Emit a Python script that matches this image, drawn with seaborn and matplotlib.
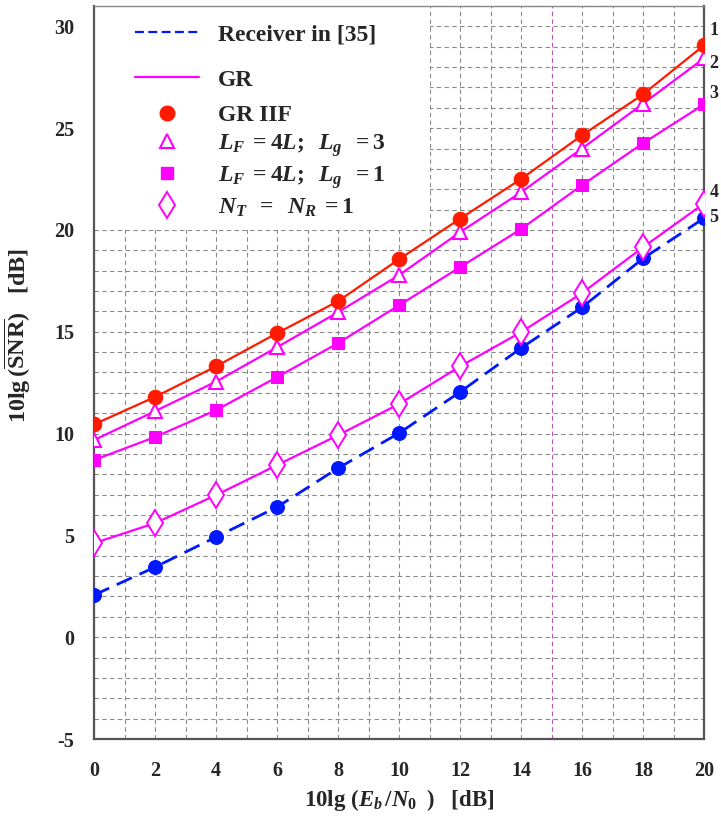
import numpy as np
import pandas as pd
import matplotlib
matplotlib.use("Agg")
import matplotlib.pyplot as plt
from matplotlib.lines import Line2D
from matplotlib.patches import Rectangle
from matplotlib.ticker import MultipleLocator
import seaborn as sns

# ---------------- data ----------------
ebn0 = [0, 2, 4, 6, 8, 10, 12, 14, 16, 18, 20]
gr_iif = [10.45, 11.8, 13.3, 14.93, 16.5, 18.56, 20.55, 22.5, 24.65, 26.66, 29.07]
lg3 = [9.68, 11.1, 12.55, 14.24, 15.96, 17.78, 19.89, 21.85, 24.0, 26.2, 28.43]
lg1 = [8.7, 9.83, 11.15, 12.77, 14.44, 16.3, 18.17, 20.04, 22.2, 24.26, 26.17]
siso = [4.62, 5.6, 6.98, 8.45, 9.92, 11.45, 13.3, 14.98, 16.9, 19.15, 21.3]
recv35 = [2.07, 3.44, 4.92, 6.39, 8.3, 10.02, 12.04, 14.2, 16.2, 18.6, 20.58]

y_ticks = [-5, 0, 5, 10, 15, 20, 25, 30]
x_ticks = [0, 2, 4, 6, 8, 10, 12, 14, 16, 18, 20]
curve_ids = ["1", "2", "3", "4", "5"]

legend_labels = ["Receiver in [35]", "GR", "GR IIF",
                 r"$L_F\;=4L;\;\;L_g\;\;=3$",
                 r"$L_F\;=4L;\;\;L_g\;\;=1$",
                 r"$N_T\;\;=\;\;N_R\;=1$"]

# ---------------- style ----------------
sns.set_style("white")
plt.rcParams["font.family"] = ["Liberation Serif", "DejaVu Serif"]
plt.rcParams["font.weight"] = "bold"
plt.rcParams["axes.unicode_minus"] = False
plt.rcParams["mathtext.fontset"] = "custom"
plt.rcParams["mathtext.rm"] = "Liberation Serif:bold"
plt.rcParams["mathtext.it"] = "Liberation Serif:italic:bold"
plt.rcParams["mathtext.bf"] = "Liberation Serif:bold"

MAG = "#ff00ff"
RED = "#ff1a00"
BLUE = "#0018ff"

fig = plt.figure(figsize=(7.21, 8.21), dpi=100)
ax = fig.add_axes([94 / 721, 82 / 821, 610 / 721, 733 / 821])

df = pd.DataFrame({"x": ebn0, "iif": gr_iif, "lg3": lg3, "lg1": lg1,
                   "siso": siso, "r35": recv35})

sns.lineplot(data=df, x="x", y="r35", ax=ax, color=BLUE, lw=2,
             linestyle=(0, (6, 3)), marker="o", markersize=10,
             markeredgecolor=BLUE, zorder=5)
sns.lineplot(data=df, x="x", y="siso", ax=ax, color=MAG, lw=1.6,
             marker="d", markersize=13, markerfacecolor="white",
             markeredgecolor=MAG, markeredgewidth=1.4, zorder=5)
sns.lineplot(data=df, x="x", y="lg1", ax=ax, color=MAG, lw=1.6,
             marker="s", markersize=9, markeredgecolor=MAG, zorder=5)
sns.lineplot(data=df, x="x", y="lg3", ax=ax, color=MAG, lw=1.6,
             marker="^", markersize=10.5, markerfacecolor="white",
             markeredgecolor=MAG, markeredgewidth=1.5, zorder=5)
sns.lineplot(data=df, x="x", y="iif", ax=ax, color=RED, lw=1.6,
             marker="o", markersize=10.5, markeredgecolor=RED, zorder=6)

ax.set_xlim(0, 20)
ax.set_ylim(-5, 31)
ax.xaxis.set_minor_locator(MultipleLocator(1))
ax.yaxis.set_minor_locator(MultipleLocator(1))
ax.set_xticks(x_ticks)
ax.set_yticks(y_ticks)
ax.tick_params(axis="both", which="both", length=0, labelsize=14.5)
ax.tick_params(axis="x", pad=16)
ax.tick_params(axis="y", pad=14)
for lab in ax.get_xticklabels() + ax.get_yticklabels():
    lab.set_fontweight("bold")

ax.grid(True, which="both", color="#8a8a8a", linestyle=(0, (4, 3)), lw=0.8)
ax.set_axisbelow(True)
for s in ax.spines.values():
    s.set_color("#555555")
    s.set_linewidth(1.6)
ax.spines["top"].set_linewidth(1.0)
ax.spines["top"].set_color("#888888")

# faint magenta vertical marker
ax.axvline(15, color=MAG, lw=0.8, linestyle=(0, (4, 3)), alpha=0.35, zorder=1)

# white legend area hides grid
ax.add_patch(Rectangle((0, 0.694), 0.551, 0.306, transform=ax.transAxes,
                       facecolor="white", edgecolor="none", zorder=1.5))

ax.set_xlabel(r"10lg $(E_b\,/N_0\;\;)$   [dB]", fontsize=16.5, fontweight="bold",
              labelpad=4)
ax.set_ylabel(r"10lg$\,(\overline{\mathrm{SNR}})$   [dB]", fontsize=17.5,
              fontweight="bold")
ax.yaxis.set_label_coords(-0.1, 0.55)

# legend (two blocks for uneven spacing)
h1 = [Line2D([], [], color=BLUE, lw=1.6, linestyle=(0, (4, 2))),
      Line2D([], [], color=MAG, lw=1.6)]
h2 = [Line2D([], [], color=RED, lw=0, marker="o", markersize=10.5),
      Line2D([], [], color=MAG, lw=0, marker="^", markersize=10.5,
             markerfacecolor="white", markeredgewidth=1.5),
      Line2D([], [], color=MAG, lw=0, marker="s", markersize=9),
      Line2D([], [], color=MAG, lw=0, marker="d", markersize=13,
             markerfacecolor="white", markeredgewidth=1.4)]
prop = {"family": "Liberation Serif", "weight": "bold", "size": 17}
leg1 = ax.legend(h1, legend_labels[:2], loc="upper left",
                 bbox_to_anchor=(0.06, 0.982), frameon=False, prop=prop,
                 handlelength=2.7, handletextpad=0.8, labelspacing=1.0,
                 borderpad=0.2, borderaxespad=0)
ax.add_artist(leg1)
leg2 = ax.legend(h2, legend_labels[2:], loc="upper left",
                 bbox_to_anchor=(0.06, 0.872), frameon=False, prop=prop,
                 handlelength=2.7, handletextpad=0.8, labelspacing=0.24,
                 borderpad=0.2, borderaxespad=0)
leg1.set_zorder(10)
leg2.set_zorder(10)

# curve numbers on the right
id_y = [29.8, 28.2, 26.7, 21.85, 20.6]
trans = ax.get_yaxis_transform()
for t, yy in zip(curve_ids, id_y):
    ax.text(1.009, yy, t, transform=trans, fontsize=13, fontweight="bold",
            ha="left", va="center", clip_on=False)

fig.savefig("out.png", dpi=100)
